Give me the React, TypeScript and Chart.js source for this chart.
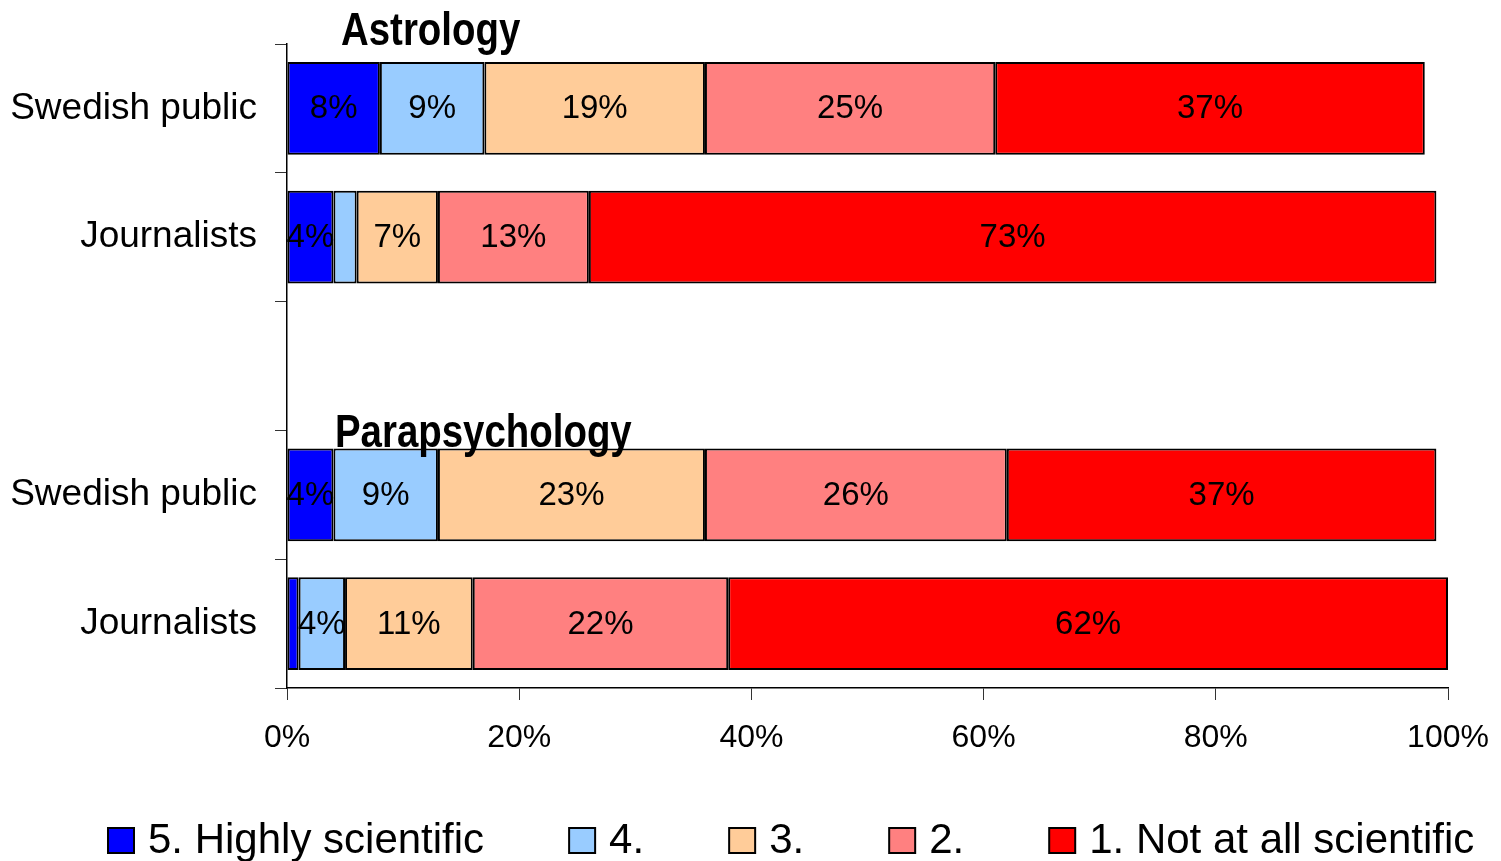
import React, { useEffect, useRef } from "react";
import { Chart, registerables } from "chart.js";

Chart.register(...registerables);

// ---- Data ----
const categories = ["Swedish public", "Journalists", "", "Swedish public", "Journalists"];
const seriesLabels = ["5. Highly scientific", "4.", "3.", "2.", "1. Not at all scientific"];
const seriesColors = ["#0000FF", "#99CCFF", "#FFCC99", "#FF8080", "#FF0000"];
const highlyScientific = [8, 4, null, 4, 1];
const level4 = [9, 2, null, 9, 4];
const level3 = [19, 7, null, 23, 11];
const level2 = [25, 13, null, 26, 22];
const notAtAllScientific = [37, 73, null, 37, 62];
const groupTitles = ["Astrology", "Parapsychology"];
const xMin = 0;
const xMax = 100;
const xStep = 20;

const FONT = '"Liberation Sans", Arial, Helvetica, sans-serif';

const valueLabelPlugin = {
  id: "valueLabels",
  afterDatasetsDraw(chart: any) {
    const ctx = chart.ctx;
    ctx.save();
    ctx.font = `33px ${FONT}`;
    ctx.fillStyle = "#000";
    ctx.textAlign = "center";
    ctx.textBaseline = "middle";
    chart.data.datasets.forEach((ds: any, i: number) => {
      const meta = chart.getDatasetMeta(i);
      meta.data.forEach((el: any, j: number) => {
        const v = ds.data[j];
        if (v == null || v < 3) return;
        const p = el.getCenterPoint();
        ctx.fillText(`${v}%`, p.x, p.y + 1);
      });
    });
    ctx.restore();
  },
};

const groupTitlePlugin = {
  id: "groupTitles",
  afterDatasetsDraw(chart: any) {
    const ctx = chart.ctx;
    const { left, top } = chart.chartArea;
    const spots = [
      { x: left + 54, y: top + 1 },
      { x: left + 48, y: top + 403 },
    ];
    ctx.save();
    ctx.font = `bold 46px ${FONT}`;
    ctx.fillStyle = "#000";
    ctx.textAlign = "left";
    ctx.textBaseline = "alphabetic";
    groupTitles.forEach((t, i) => {
      ctx.save();
      ctx.translate(spots[i].x, spots[i].y);
      ctx.scale(0.835, 1);
      ctx.fillText(t, 0, 0);
      ctx.restore();
    });
    ctx.restore();
  },
};

const bottomLegendPlugin = {
  id: "bottomLegend",
  afterDraw(chart: any) {
    const ctx = chart.ctx;
    ctx.save();
    ctx.font = `42px ${FONT}`;
    ctx.textAlign = "left";
    ctx.textBaseline = "alphabetic";
    let x = 108;
    const boxTop = 828;
    const boxW = 26;
    const boxH = 25;
    const baseline = 853;
    chart.data.datasets.forEach((ds: any) => {
      ctx.fillStyle = ds.backgroundColor;
      ctx.fillRect(x, boxTop, boxW, boxH);
      ctx.strokeStyle = "#000";
      ctx.lineWidth = 2;
      ctx.strokeRect(x, boxTop, boxW, boxH);
      ctx.fillStyle = "#000";
      const tx = x + boxW + 14;
      ctx.fillText(ds.label, tx, baseline);
      x = tx + ctx.measureText(ds.label).width + 85;
    });
    ctx.restore();
  },
};

export default function App() {
  const ref = useRef<HTMLCanvasElement>(null);
  useEffect(() => {
    document.body.style.margin = "0";
    const canvas = ref.current;
    if (!canvas) return;
    Chart.defaults.font.family = FONT;
    const seriesData = [highlyScientific, level4, level3, level2, notAtAllScientific];
    const chart = new Chart(canvas, {
      type: "bar",
      data: {
        labels: categories,
        datasets: seriesLabels.map((label, i) => ({
          label,
          data: seriesData[i] as any,
          backgroundColor: seriesColors[i],
          borderColor: "#000",
          borderWidth: 2,
          borderSkipped: false,
          barPercentage: 0.72,
          categoryPercentage: 1,
        })),
      },
      options: {
        indexAxis: "y",
        responsive: true,
        maintainAspectRatio: false,
        animation: false,
        layout: { padding: { top: 44, right: 53, left: 0, bottom: 103 } },
        plugins: {
          legend: { display: false },
          tooltip: { enabled: false },
          title: { display: false },
        },
        scales: {
          x: {
            stacked: true,
            min: xMin,
            max: xMax,
            ticks: {
              stepSize: xStep,
              color: "#000",
              font: { size: 32, family: FONT },
              padding: 19,
              maxRotation: 0,
              callback: (v: any) => `${v}%`,
            },
            grid: {
              drawOnChartArea: false,
              drawTicks: true,
              tickLength: 12,
              color: "#333",
            },
            border: { display: true, color: "#000", width: 1.5 },
            afterFit: (scale: any) => {
              scale.height = 70;
              scale.paddingLeft = 0;
              scale.paddingRight = 0;
            },
          },
          y: {
            stacked: true,
            ticks: {
              color: "#000",
              font: { size: 37, family: FONT },
              padding: 18,
            },
            grid: {
              drawOnChartArea: false,
              drawTicks: true,
              tickLength: 12,
              color: "#333",
              offset: true,
            },
            border: { display: true, color: "#000", width: 1.5 },
            afterFit: (scale: any) => {
              scale.width = 287;
              scale.paddingTop = 0;
              scale.paddingBottom = 0;
            },
          },
        },
      },
      plugins: [valueLabelPlugin, groupTitlePlugin, bottomLegendPlugin],
    });
    return () => chart.destroy();
  }, []);
  return (
    <div style={{ width: 1501, height: 861, position: "relative" }}>
      <canvas ref={ref} />
    </div>
  );
}
